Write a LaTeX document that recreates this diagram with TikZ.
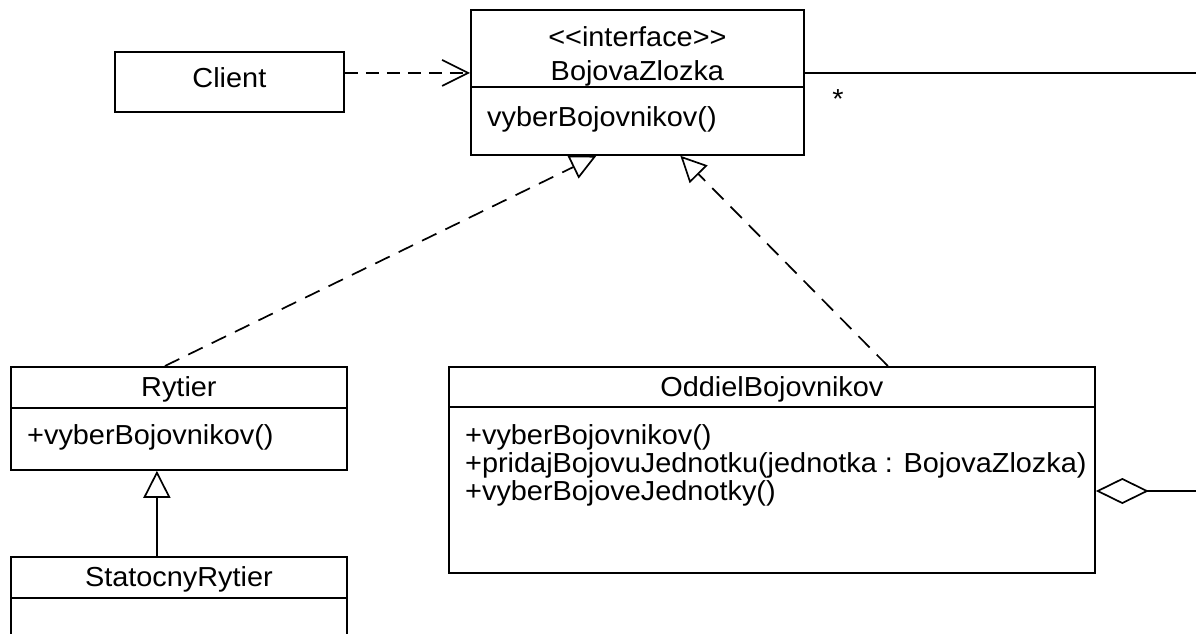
\documentclass[tikz,border=0pt]{standalone}
\usepackage{fontspec}
\setmainfont{Liberation Sans}[FakeStretch=1.05,Ligatures=TeXOff]
\usetikzlibrary{arrows.meta,positioning,calc}
\pgfdeclarelayer{edgelayer}
\pgfsetlayers{edgelayer,main}

\begin{document}
\begin{tikzpicture}[x=1pt,y=-1pt,
    box/.style={draw,fill=white,line width=1.8pt,anchor=north west,inner sep=0pt},
    txt/.style={inner sep=0pt,anchor=base,font=\fontsize{27.5}{28}\selectfont},
    op/.style={txt,anchor=base west},
    dashline/.style={line width=1.7pt,dash pattern=on 16pt off 10pt},
    realize/.style={dashline,-{Triangle[open,length=26pt,width=25pt]}},
    inherit/.style={line width=1.7pt,-{Triangle[open,length=27pt,width=27pt]}},
    uses/.style={line width=1.7pt,dash pattern=on 13pt off 8pt,-{Straight Barb[length=26pt,width=26pt]}},
    aggr/.style={line width=1.7pt,{Diamond[open,length=53pt,width=26pt]}-}]
\useasboundingbox (0,0) rectangle (1196,634);
\clip (0,0) rectangle (1196,634);

% class boxes
\node[box,minimum width=229pt,minimum height=60pt] (client) at (114,51) {};
\node[box,minimum width=333pt,minimum height=145pt] (zlozka) at (470,9) {};
\node[box,minimum width=336pt,minimum height=103pt] (rytier) at (10,366) {};
\node[box,minimum width=336pt,minimum height=90pt] (statocny) at (10,556) {};
\node[box,minimum width=646pt,minimum height=206pt] (oddiel) at (448,366) {};

% compartments
\draw[line width=1.8pt] ([yshift=-78pt]zlozka.north west) -- ([yshift=-78pt]zlozka.north east);
\draw[line width=1.8pt] ([yshift=-42pt]rytier.north west) -- ([yshift=-42pt]rytier.north east);
\draw[line width=1.8pt] ([yshift=-42pt]statocny.north west) -- ([yshift=-42pt]statocny.north east);
\draw[line width=1.8pt] ([yshift=-41pt]oddiel.north west) -- ([yshift=-41pt]oddiel.north east);

\node[txt] (clientname) at ([yshift=-37pt]client.north) {Client};
\node[txt] (stereo) at ([yshift=-38pt]zlozka.north) {<<interface>>};
\node[txt] (zlozkaname) at ([yshift=-72pt]zlozka.north) {BojovaZlozka};
\node[op] (zlozkaop) at ([xshift=17pt,yshift=-117pt]zlozka.north west) {vyberBojovnikov()};
\node[txt] (rytiername) at ([yshift=-30pt]rytier.north) {Rytier};
\node[op] (rytierop) at ([xshift=17pt,yshift=-78pt]rytier.north west) {+vyberBojovnikov()};
\node[txt] (statocnyname) at ([yshift=-30pt]statocny.north) {StatocnyRytier};
\node[txt] (oddielname) at ([yshift=-30pt]oddiel.north) {OddielBojovnikov};
\node[op] (oddielopa) at ([xshift=17pt,yshift=-78pt]oddiel.north west) {+vyberBojovnikov()};
\node[op] (oddielopb) at ([xshift=17pt,yshift=-106pt]oddiel.north west) {+pridajBojovuJednotku(jednotka : BojovaZlozka)};
\node[op] (oddielopc) at ([xshift=17pt,yshift=-134pt]oddiel.north west) {+vyberBojoveJednotky()};
\node[txt] (mult) at (838,108) {*};

\begin{pgfonlayer}{edgelayer}
    \draw[uses] ([yshift=9pt]client.east) -- ([yshift=9pt]client.east -| zlozka.west);
    \draw[realize] ([xshift=-14pt]rytier.north) -- ([xshift=-41pt]zlozka.south);
    \draw[realize] ([xshift=116pt]oddiel.north) -- ([xshift=43pt]zlozka.south);
    \draw[inherit] ([xshift=-22pt]statocny.north) -- ([xshift=-22pt]rytier.south);
    \coordinate (rightA) at (1196,73);
    \draw[line width=1.7pt] (zlozka.east |- rightA) -- (rightA);
    \coordinate (rightB) at (1196,491);
    \draw[aggr] (oddiel.east |- rightB) -- (rightB);
    %\draw (rightA) -- (rightB);
\end{pgfonlayer}
\end{tikzpicture}
\end{document}
